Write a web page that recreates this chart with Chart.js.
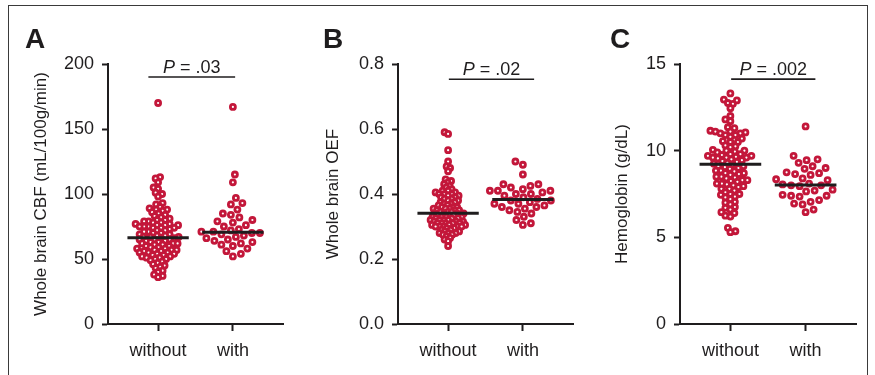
<!DOCTYPE html>
<html>
<head>
<meta charset="utf-8">
<script src="https://cdn.jsdelivr.net/npm/chart.js@4.4.1/dist/chart.umd.min.js"></script>
<style>
  html, body { margin: 0; padding: 0; background: #fff; overflow: hidden; }
  #wrap { position: relative; width: 875px; height: 375px; }
  #frame { position: absolute; left: 8px; top: 5px; width: 860px; height: 420px; border: 1.5px solid #3a3a3a; box-sizing: border-box; }
  canvas { position: absolute; top: 0; }
</style>
</head>
<body>
<div id="wrap">
  <div id="frame"></div>
  <canvas id="cA" width="280" height="375" style="left:10px"></canvas>
  <canvas id="cB" width="290" height="375" style="left:290px"></canvas>
  <canvas id="cC" width="287" height="375" style="left:580px"></canvas>
</div>
<script>
// data
const groupLabels = ['without', 'with'];

const cbfWithout = [170,
  113, 112, 109, 105, 104, 101, 100, 98,
  93, 92, 90, 89, 88, 88, 87, 86, 85, 84,
  83, 82, 81, 80, 80, 79, 79, 78, 78,
  77, 77, 76, 76, 76, 75, 75, 75, 74, 74, 74,
  73, 72, 72, 71, 71, 70, 70, 69, 69,
  68, 68, 67, 67, 67, 66, 66, 65, 65, 65, 64, 64,
  63, 63, 62, 62, 62, 61, 61, 60, 60, 59, 59,
  58, 58, 57, 57, 57, 56, 56, 55, 55, 55, 54, 54, 53, 53,
  52, 52, 51, 51, 50, 50, 49, 48, 47,
  46, 45, 44, 43, 41, 40, 38, 37, 36];
const cbfWith = [167, 115, 109, 97, 93, 92, 88, 85, 84, 82, 80, 79, 78, 76, 75, 73, 72, 71,
  71, 70, 70, 69, 68, 67, 66, 65, 64, 63, 62, 61, 60, 58, 56, 54, 52];

const oefWithout = [0.59, 0.585, 0.535, 0.50, 0.485, 0.48, 0.47, 0.445, 0.44, 0.435, 0.43,
  0.425, 0.42, 0.415, 0.41, 0.41, 0.405, 0.405, 0.40, 0.40, 0.40, 0.395, 0.395,
  0.39, 0.39, 0.385, 0.385, 0.38, 0.38, 0.375, 0.375, 0.37, 0.37, 0.365, 0.365,
  0.36, 0.36, 0.36, 0.355, 0.355, 0.355, 0.35, 0.35, 0.35, 0.345, 0.345, 0.345,
  0.34, 0.34, 0.34, 0.34, 0.335, 0.335, 0.335, 0.33, 0.33, 0.33, 0.33, 0.325, 0.325, 0.325,
  0.32, 0.32, 0.32, 0.32, 0.315, 0.315, 0.315, 0.31, 0.31, 0.31, 0.31, 0.31, 0.305, 0.305, 0.305,
  0.30, 0.30, 0.30, 0.30, 0.30, 0.295, 0.295, 0.29, 0.29, 0.285, 0.285, 0.28, 0.28, 0.28,
  0.275, 0.275, 0.27, 0.265, 0.26, 0.255, 0.24];
const oefWith = [0.50, 0.49, 0.46, 0.43, 0.43, 0.425, 0.42, 0.415, 0.41, 0.41, 0.41, 0.405,
  0.40, 0.40, 0.395, 0.39, 0.385, 0.38, 0.38, 0.375, 0.37, 0.37, 0.365, 0.36, 0.36, 0.355,
  0.35, 0.345, 0.34, 0.33, 0.32, 0.31, 0.305];

const hbWithout = [13.3, 12.95, 12.9, 12.75, 12.7, 12.45, 12.0, 11.8, 11.7, 11.35, 11.3,
  11.15, 11.1, 11.1, 11.05, 11.0, 11.0, 10.9, 10.9, 10.8, 10.7, 10.55, 10.5,
  10.5, 10.3, 10.25, 10.2, 10.05, 10.0, 10.0, 9.95, 9.9, 9.8, 9.8, 9.75,
  9.7, 9.7, 9.65, 9.6, 9.6, 9.6, 9.55, 9.5, 9.45, 9.4, 9.35, 9.3,
  9.25, 9.2, 9.1, 9.1, 9.05, 9.0, 8.95, 8.85, 8.85, 8.8, 8.7, 8.7,
  8.65, 8.6, 8.5, 8.5, 8.45, 8.4, 8.3, 8.3, 8.25, 8.2, 8.1, 8.1,
  8.05, 8.0, 7.95, 7.9, 7.8, 7.8, 7.7, 7.6, 7.5, 7.5, 7.45, 7.35,
  7.3, 7.2, 7.05, 7.0, 6.9, 6.75, 6.7, 6.6, 6.45, 6.4, 6.25, 6.2,
  5.55, 5.35, 5.3];
const hbWith = [11.4, 9.7, 9.5, 9.45, 9.3, 9.1, 9.0, 8.95, 8.75, 8.7, 8.65, 8.6, 8.4, 8.35,
  8.3, 8.1, 8.05, 8.0, 8.0, 7.95, 7.75, 7.7, 7.65, 7.45, 7.4, 7.4, 7.35, 7.15, 7.05,
  6.95, 6.9, 6.6, 6.45];

const medCbf = [66.4, 70.5];
const medOef = [0.341, 0.383];
const medHb = [9.21, 8.02];

const pValues = ['.03', '.02', '.002'];
const pBarCbf = [-0.13, 1.03, 190];   // x from, x to, y
const pBarOef = [0.01, 1.15, 0.753];
const pBarHb = [0.01, 1.13, 14.13];

const RED = '#c3173a', INK = '#1f1d1e';
const FONT = '"Liberation Sans", Arial, Helvetica, sans-serif';
const MED_HALF = 0.41;

// spread points sideways so they don't stack on one line
function swarm(chart) {
  const { x, y } = chart.scales;
  const ux = x.getPixelForValue(1) - x.getPixelForValue(0);
  chart.data.datasets.forEach(ds => {
    if (ds.group === undefined) return;
    const d = ds.gap, placed = [];
    ds.data.slice().sort((a, b) => a.y - b.y).forEach((p, n) => {
      const py = y.getPixelForValue(p.y);
      const near = placed.filter(q => Math.abs(q.py - py) < d);
      const sg = n % 2 ? 1 : -1;
      let off;
      for (let k = 0; off === undefined; k++) {
        const c = k ? [sg * k * 0.5, -sg * k * 0.5] : [0];
        off = c.find(cx => near.every(q => (q.px - cx) ** 2 + (q.py - py) ** 2 >= d * d));
      }
      placed.push({ px: off, py });
      p.x = ds.group + off / ux;
    });
  });
  chart.update('none');
}

const annot = {
  id: 'annot',
  afterDraw(c, args, o) {
    const { ctx, scales: { x, y } } = c;
    ctx.save();
    ctx.fillStyle = INK;
    ctx.textBaseline = 'alphabetic'; ctx.textAlign = 'left';
    ctx.font = `bold 28px ${FONT}`;
    ctx.fillText(o.letter, o.lx, 48);
    // P label sits over the bracket
    const cx = (x.getPixelForValue(o.bar[0]) + x.getPixelForValue(o.bar[1])) / 2;
    const by = y.getPixelForValue(o.bar[2]) - 4.5;
    ctx.font = `italic 18px ${FONT}`;
    const wP = ctx.measureText('P').width;
    ctx.font = `18px ${FONT}`;
    const rest = ' = ' + o.p, wR = ctx.measureText(rest).width;
    const x0 = cx - (wP + wR) / 2;
    ctx.font = `italic 18px ${FONT}`; ctx.fillText('P', x0, by);
    ctx.font = `18px ${FONT}`; ctx.fillText(rest, x0 + wP, by);
    ctx.restore();
  }
};

function panel(id, o) {
  const datasets = [
    ...o.med.map((m, g) => ({ type: 'line', data: [{ x: g - MED_HALF, y: m }, { x: g + MED_HALF, y: m }],
      borderColor: INK, borderWidth: 3, pointRadius: 0, order: 0 })),
    { type: 'line', data: [{ x: o.bar[0], y: o.bar[2] }, { x: o.bar[1], y: o.bar[2] }],
      borderColor: INK, borderWidth: 1.6, pointRadius: 0, order: 0 },
    ...o.groups.map((vals, g) => ({ group: g, gap: o.gap[g], data: vals.map(v => ({ x: g, y: v })),
      pointRadius: 2.5, pointBorderWidth: 2.8, pointBorderColor: RED, pointBackgroundColor: '#fff', order: 1 }))
  ];
  const chart = new Chart(document.getElementById(id), {
    type: 'scatter',
    data: { datasets },
    options: {
      responsive: false, animation: false, events: [],
      layout: { padding: { top: 64, right: o.padR, left: 0, bottom: 0 } },
      plugins: { legend: { display: false }, tooltip: { enabled: false },
        annot: { letter: o.letter, lx: o.lx, p: o.p, bar: o.bar } },
      scales: {
        x: {
          type: 'linear', min: -0.67, max: 1.67,
          afterBuildTicks: s => { s.ticks = [{ value: 0 }, { value: 1 }]; },
          afterFit: s => { s.height = 51; },
          ticks: { callback: v => groupLabels[v], color: INK, font: { family: FONT, size: 18 }, padding: 9 },
          grid: { drawOnChartArea: false, tickLength: 7, tickWidth: 2, tickColor: INK },
          border: { display: true, color: INK, width: 2 }
        },
        y: {
          min: o.min, max: o.max,
          afterFit: s => { s.width = o.yw; },
          ticks: { stepSize: o.step, callback: o.fmt, color: INK, font: { family: FONT, size: 18 }, padding: 8 },
          grid: { drawOnChartArea: false, tickLength: 6, tickWidth: 2, tickColor: INK },
          border: { display: true, color: INK, width: 2 },
          title: { display: true, text: o.title, color: INK, font: { family: FONT, size: 17, lineHeight: 1.2 },
            padding: { top: o.tpad, bottom: 0 } }
        }
      }
    },
    plugins: [annot]
  });
  swarm(chart);
  return chart;
}

panel('cA', { letter: 'A', lx: 15, p: pValues[0], bar: pBarCbf, med: medCbf, groups: [cbfWithout, cbfWith],
  gap: [4.4, 8], min: 0, max: 200, step: 50, fmt: v => v, yw: 98, padR: 7, tpad: 21,
  title: 'Whole brain CBF (mL/100g/min)' });
panel('cB', { letter: 'B', lx: 33, p: pValues[1], bar: pBarOef, med: medOef, groups: [oefWithout, oefWith],
  gap: [3.6, 8], min: 0, max: 0.8, step: 0.2, fmt: v => v.toFixed(1), yw: 108, padR: 7, tpad: 33,
  title: 'Whole brain OEF' });
panel('cC', { letter: 'C', lx: 30, p: pValues[2], bar: pBarHb, med: medHb, groups: [hbWithout, hbWith],
  gap: [5, 8.3], min: 0, max: 15, step: 5, fmt: v => v, yw: 100, padR: 11, tpad: 32,
  title: 'Hemoglobin (g/dL)' });
</script>
</body>
</html>
